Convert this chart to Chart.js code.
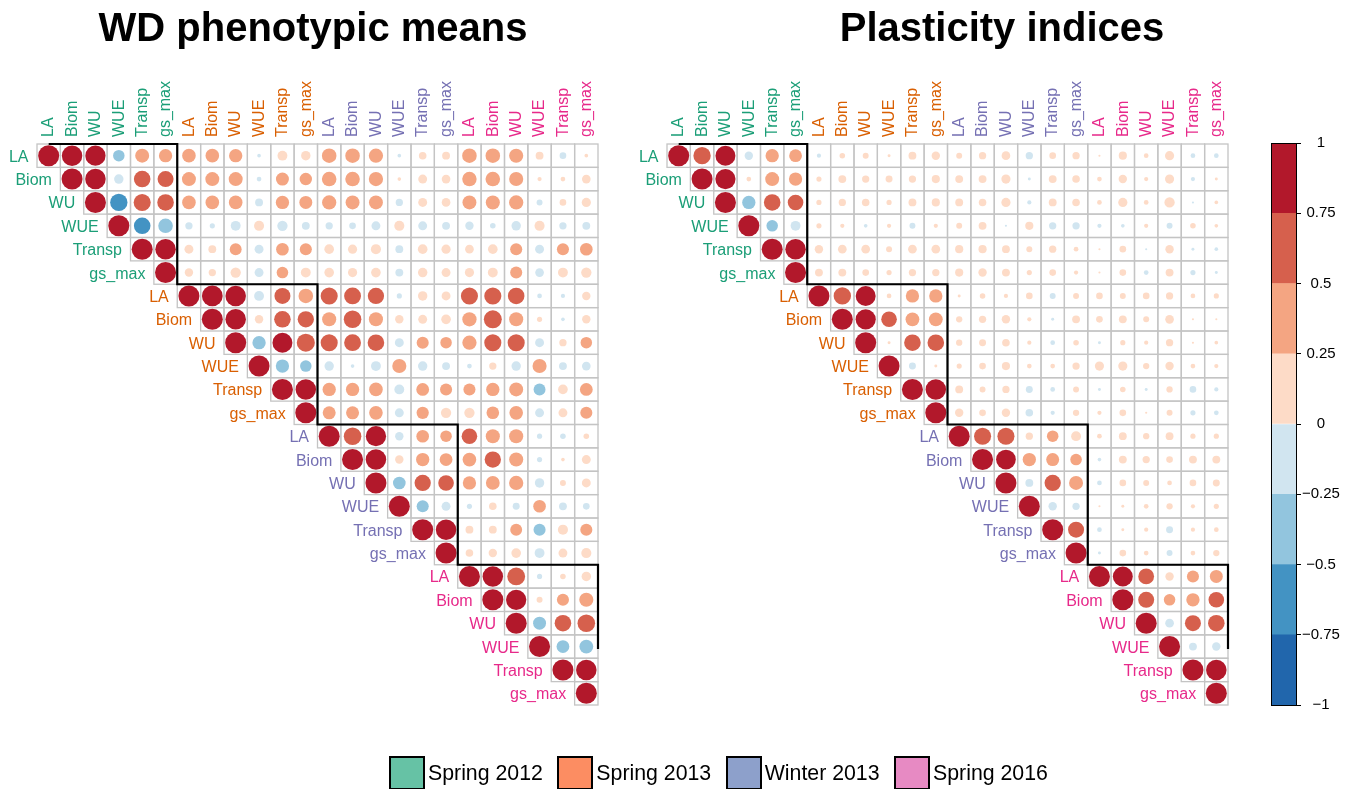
<!DOCTYPE html>
<html>
<head>
<meta charset="utf-8">
<script src="https://cdn.jsdelivr.net/npm/chart.js@4/dist/chart.umd.min.js"></script>
<style>
html,body{margin:0;padding:0;background:#fff;overflow:hidden;width:1353px;height:789px;}
#wrap{position:relative;width:1353px;height:789px;overflow:hidden;}
canvas{position:absolute;top:0;}
#c1{left:0;}
#c2{left:630px;}
#cb{left:1240px;z-index:2;}
#legend{position:absolute;top:756px;left:389px;display:flex;align-items:center;font-family:"Liberation Sans",Arial,sans-serif;font-size:21.3px;color:#000;}
#legend .item{display:flex;align-items:center;margin-right:14.5px;}
#legend .sw{width:32px;height:30px;border:2px solid #000;box-sizing:content-box;margin-right:3px;}
</style>
</head>
<body>
<div id="wrap">
  <canvas id="c1" width="626" height="789"></canvas>
  <canvas id="c2" width="744" height="789"></canvas>
  <canvas id="cb" width="113" height="789"></canvas>
  <div id="legend"></div>
</div>
<script>
// ---------- data ----------
const variables = ['LA','Biom','WU','WUE','Transp','gs_max'];
const groups = ['Spring 2012','Spring 2013','Winter 2013','Spring 2016'];
const groupTextColors = ['#1B9E77','#D95F02','#7570B3','#E7298A'];
const groupFillColors = ['#66C2A5','#FC8D62','#8DA0CB','#E78AC3'];
const titles = ['WD phenotypic means','Plasticity indices'];
const binColors = ['#2166AC','#4393C3','#92C5DE','#D1E5F0','#FDDBC7','#F4A582','#D6604D','#B2182B'];
const colorbarBreaks = [-1,-0.75,-0.5,-0.25,0,0.25,0.5,0.75,1];
const blockOutlineX = [0,5.5,5.5,11.5,11.5,17.5,17.5,23.5,23.5];
const blockOutlineY = [-0.5,-0.5,5.5,5.5,11.5,11.5,17.5,17.5,21.1];

// upper triangle rows: row i lists correlations with columns i..23
const wdMeansRows = [
  [1,0.95,0.93,-0.3,0.44,0.4,0.42,0.42,0.4,-0.03,0.22,0.2,0.48,0.48,0.46,-0.03,0.13,0.14,0.48,0.48,0.45,0.14,-0.1,0.03],
  [1,0.95,-0.2,0.62,0.58,0.44,0.44,0.44,-0.05,0.38,0.35,0.48,0.48,0.46,0.03,0.18,0.17,0.47,0.48,0.45,0.04,0.05,0.17],
  [1,-0.68,0.66,0.62,0.42,0.42,0.42,-0.14,0.4,0.38,0.46,0.44,0.44,-0.12,0.18,0.17,0.44,0.45,0.46,-0.08,0.1,0.19],
  [1,-0.62,-0.48,-0.12,-0.06,-0.22,0.23,-0.24,-0.14,-0.12,-0.1,-0.18,0.23,-0.18,-0.14,-0.16,-0.07,-0.2,0.23,-0.12,-0.14],
  [1,0.95,0.18,0.14,0.32,-0.18,0.36,0.33,0.21,0.19,0.23,-0.14,0.21,0.19,0.17,0.21,0.33,-0.18,0.33,0.36],
  [1,0.16,0.12,0.24,-0.18,0.3,0.22,0.21,0.19,0.21,-0.14,0.2,0.18,0.19,0.22,0.33,-0.17,0.22,0.24],
  [1,0.97,0.95,-0.22,0.58,0.48,0.66,0.64,0.6,-0.06,0.2,0.18,0.66,0.66,0.62,-0.05,-0.04,0.16],
  [1,0.95,0.16,0.62,0.6,0.45,0.7,0.45,0.16,0.18,0.21,0.46,0.73,0.45,0.06,-0.03,0.16],
  [1,-0.4,0.9,0.74,0.66,0.64,0.62,-0.18,0.33,0.3,0.46,0.66,0.66,-0.18,0.12,0.3],
  [1,-0.4,-0.3,-0.2,-0.03,-0.22,0.45,-0.2,-0.14,-0.05,0.12,-0.2,0.45,-0.14,-0.17],
  [1,0.95,0.4,0.4,0.42,-0.22,0.37,0.33,0.33,0.4,0.44,-0.32,0.21,0.37],
  [1,0.38,0.38,0.42,-0.18,0.34,0.24,0.24,0.36,0.42,-0.18,0.18,0.33],
  [1,0.7,0.93,-0.16,0.36,0.3,0.55,0.45,0.45,-0.06,-0.07,0.07],
  [1,0.95,0.16,0.4,0.37,0.42,0.6,0.45,-0.06,0.03,0.18],
  [1,-0.36,0.6,0.55,0.4,0.43,0.46,-0.2,0.08,0.18],
  [1,-0.33,-0.18,-0.06,0.13,-0.11,0.36,-0.14,-0.1],
  [1,0.95,0.14,0.14,0.32,-0.33,0.23,0.33],
  [1,0.13,0.16,0.21,-0.22,0.18,0.23],
  [1,0.95,0.72,-0.06,0.07,0.2],
  [1,0.93,0.08,0.33,0.45],
  [1,-0.38,0.62,0.7],
  [1,-0.37,-0.43],
  [1,0.95],
  [1]
];

const plasticityRows = [
  [1,0.68,0.9,-0.16,0.4,0.37,-0.04,0.07,0.08,0.02,0.14,0.16,0.08,0.12,0.17,-0.12,0.1,0.12,0.01,0.15,0.05,0.19,-0.05,-0.05],
  [1,0.92,0.05,0.44,0.4,0.06,0.14,0.12,0.11,0.12,0.15,0.14,0.14,0.19,-0.02,0.14,0.13,0.05,0.16,0.04,0.19,-0.04,0.02],
  [1,-0.4,0.62,0.55,0.06,0.12,0.13,0.06,0.14,0.15,0.14,0.13,0.19,-0.04,0.14,0.13,0.05,0.19,0.05,0.24,-0.01,0.03],
  [1,-0.3,-0.22,0.06,0.04,-0.03,0.04,-0.08,0.04,0.08,0.14,-0.01,0.15,-0.12,-0.12,-0.04,-0.03,0.04,-0.08,0.07,0.03],
  [1,0.95,0.16,0.17,0.17,0.08,0.17,0.17,0.15,0.15,0.14,0.08,0.12,0.05,0.01,0.1,-0.01,0.16,-0.02,-0.03],
  [1,0.14,0.14,0.1,0.06,0.12,0.12,0.15,0.16,0.14,0.06,0.1,0.04,0.01,0.1,-0.05,0.14,-0.06,-0.02],
  [1,0.68,0.9,0.05,0.4,0.4,0.02,0.07,0.04,0.1,-0.08,0.08,0.1,0.08,0.1,0.12,0.05,0.06],
  [1,0.92,0.55,0.43,0.43,0.09,0.12,0.16,0.04,-0.02,0.14,0.1,0.14,0.08,0.17,0.01,0.01],
  [1,0.02,0.62,0.62,0.09,0.11,0.13,0.04,-0.05,0.07,-0.02,0.06,0.04,0.12,0.01,0.03],
  [1,-0.11,0.02,0.06,0.1,0.15,0.05,0.05,0.12,0.19,0.19,0.09,0.16,0.05,0.04],
  [1,0.95,0.14,0.08,0.12,-0.11,-0.05,0.08,-0.02,0.07,-0.02,0.09,-0.1,-0.04],
  [1,0.16,0.1,0.16,-0.13,-0.04,0.09,0.04,0.1,0.01,0.08,-0.06,-0.05],
  [1,0.66,0.66,0.12,0.3,0.22,0.05,0.14,0.09,0.14,0.06,0.06],
  [1,0.88,0.4,0.38,0.3,-0.03,0.14,0.12,0.1,0.14,0.14],
  [1,-0.14,0.6,0.44,-0.05,0.1,0.08,0.05,0.1,0.11],
  [1,-0.16,-0.12,0.01,0.02,0.05,0.09,0.04,0.06],
  [1,0.58,-0.05,0.02,0.04,-0.11,0.04,0.05],
  [1,-0.02,0.1,0.05,-0.08,0.05,0.09],
  [1,0.9,0.56,0.16,0.33,0.38],
  [1,0.58,0.3,0.4,0.55],
  [1,-0.17,0.58,0.62],
  [1,-0.14,-0.16],
  [1,0.95],
  [1]
];

// ---------- helpers ----------
const FONT = "'Liberation Sans', Arial, Helvetica, sans-serif";
Chart.defaults.font.family = FONT;
const allLabels = groups.flatMap(() => variables);
const N = allLabels.length;

function binColor(v){
  let k = Math.floor((v + 1) / 0.25);
  if (k > 7) k = 7; if (k < 0) k = 0;
  return binColors[k];
}
function buildPoints(rows){
  const pts = [];
  rows.forEach((row, i) => row.forEach((v, k) => pts.push({x: i + k, y: i, v: v})));
  return pts;
}
function cellPx(chart){
  const xs = chart.scales.x;
  return Math.abs(xs.getPixelForValue(1) - xs.getPixelForValue(0));
}

const corrPlugin = {
  id: 'corrGrid',
  beforeDatasetsDraw(chart){
    const {ctx} = chart; const xs = chart.scales.x, ys = chart.scales.y;
    ctx.save();
    ctx.strokeStyle = '#C4C4C4'; ctx.lineWidth = 1.3;
    for (let i = 0; i < N; i++) for (let j = i; j < N; j++){
      const x0 = xs.getPixelForValue(j - 0.5), x1 = xs.getPixelForValue(j + 0.5);
      const y0 = ys.getPixelForValue(i - 0.5), y1 = ys.getPixelForValue(i + 0.5);
      ctx.strokeRect(x0, y0, x1 - x0, y1 - y0);
    }
    ctx.restore();
  },
  afterDatasetsDraw(chart){
    const {ctx} = chart; const xs = chart.scales.x, ys = chart.scales.y;
    ctx.save();
    ctx.font = '16px ' + FONT;
    ctx.textAlign = 'right'; ctx.textBaseline = 'alphabetic';
    for (let i = 0; i < N; i++){
      ctx.fillStyle = groupTextColors[Math.floor(i / 6)];
      ctx.fillText(allLabels[i], xs.getPixelForValue(i - 0.5) - 8.5, ys.getPixelForValue(i) + 6);
    }
    ctx.restore();
  }
};

const hiddenAxis = (pos, w) => ({
  type: 'linear', position: pos, display: true, min: 0, max: 1,
  afterFit: s => { s.width = w; },
  grid: {display: false, drawTicks: false}, border: {display: false},
  ticks: {display: false}
});

function makeMatrix(id, rows, title, rightW){
  const outline = blockOutlineX.map((x, k) => ({x: x, y: blockOutlineY[k]}));
  return new Chart(document.getElementById(id), {
    type: 'scatter',
    data: {
      datasets: [
        {
          data: outline, showLine: true, borderColor: '#000', borderWidth: 2.2,
          pointRadius: 0, fill: false, clip: false, tension: 0
        },
        {
          data: buildPoints(rows),
          pointRadius: ctx => ctx.raw ? 0.45 * Math.sqrt(Math.abs(ctx.raw.v)) * cellPx(ctx.chart) : 0,
          pointBackgroundColor: ctx => ctx.raw ? binColor(ctx.raw.v) : '#000',
          pointBorderColor: ctx => ctx.raw ? binColor(ctx.raw.v) : '#000',
          pointBorderWidth: 0,
          pointHoverRadius: ctx => ctx.raw ? 0.45 * Math.sqrt(Math.abs(ctx.raw.v)) * cellPx(ctx.chart) : 0,
          clip: false
        }
      ]
    },
    options: {
      responsive: false, animation: false, devicePixelRatio: 1, events: [],
      layout: {padding: {left: 0, right: 0, top: 0, bottom: 84}},
      plugins: {
        legend: {display: false}, tooltip: {enabled: false},
        title: {display: true, text: title, color: '#000',
          font: {size: 40, weight: 'bold', family: FONT}, padding: {top: 6, bottom: 4}}
      },
      scales: {
        x: {
          type: 'linear', position: 'top', min: -0.5, max: 23.5,
          afterBuildTicks: s => { s.ticks = allLabels.map((_, i) => ({value: i})); },
          afterFit: s => { s.height = 86; },
          grid: {display: false, drawTicks: false}, border: {display: false},
          ticks: {
            autoSkip: false, minRotation: 90, maxRotation: 90, padding: 7,
            labelOffset: 19.5,
            font: {size: 16},
            color: c => groupTextColors[Math.floor(c.index / 6)],
            callback: (v, i) => allLabels[i]
          }
        },
        y: {type: 'linear', min: -0.5, max: 23.5, reverse: true, display: true,
          position: 'left',
          afterFit: s => { s.width = 37; },
          grid: {display: false, drawTicks: false}, border: {display: false},
          ticks: {display: false}},
        yRight: hiddenAxis('right', rightW)
      }
    },
    plugins: [corrPlugin]
  });
}

makeMatrix('c1', wdMeansRows, titles[0], 28);
makeMatrix('c2', plasticityRows, titles[1], 146);

// ---------- colour bar ----------
const framePlugin = {
  id: 'frame',
  afterDatasetsDraw(chart){
    const a = chart.chartArea, ctx = chart.ctx;
    ctx.save(); ctx.strokeStyle = '#000'; ctx.lineWidth = 1;
    ctx.strokeRect(Math.round(a.left) + 0.5, Math.round(a.top) + 0.5,
      Math.round(a.right - a.left), Math.round(a.bottom - a.top));
    ctx.restore();
  }
};
new Chart(document.getElementById('cb'), {
  type: 'bar',
  data: {
    labels: [''],
    datasets: binColors.map((c, k) => ({
      data: [[colorbarBreaks[k], colorbarBreaks[k + 1]]],
      backgroundColor: c, borderWidth: 0, grouped: false,
      barPercentage: 1, categoryPercentage: 1
    }))
  },
  options: {
    responsive: false, animation: false, devicePixelRatio: 1, events: [],
    layout: {padding: {left: 31, right: 0, top: 143, bottom: 84}},
    plugins: {legend: {display: false}, tooltip: {enabled: false}},
    scales: {
      x: {display: false},
      y: {
        position: 'right', min: -1, max: 1,
        afterBuildTicks: s => { s.ticks = colorbarBreaks.map(v => ({value: v})); },
        afterFit: s => { s.width = 57; },
        grid: {drawOnChartArea: false, drawTicks: true, tickLength: 5, color: '#000', lineWidth: 1},
        border: {display: false},
        ticks: {
          padding: 1, crossAlign: 'center', font: {size: 15}, color: '#000',
          callback: v => (v < 0 ? '\u2212' : '') + String(Math.abs(v))
        }
      }
    }
  },
  plugins: [framePlugin]
});

// ---------- legend ----------
const lg = document.getElementById('legend');
groups.forEach((g, k) => {
  const it = document.createElement('div'); it.className = 'item';
  const sw = document.createElement('div'); sw.className = 'sw'; sw.style.background = groupFillColors[k];
  const tx = document.createElement('span'); tx.textContent = g;
  it.appendChild(sw); it.appendChild(tx); lg.appendChild(it);
});
</script>
</body>
</html>
